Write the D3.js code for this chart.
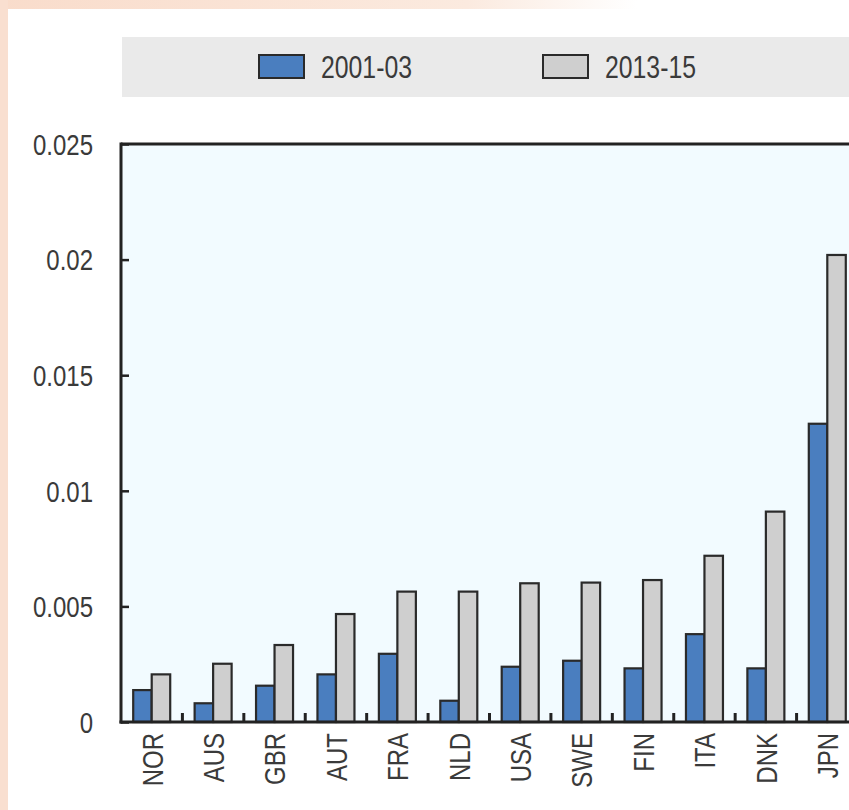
<!DOCTYPE html>
<html>
<head>
<meta charset="utf-8">
<script src="https://cdn.jsdelivr.net/npm/d3@7"></script>
<style>
html,body{margin:0;padding:0;background:#fff;}
svg{display:block;}
text{font-family:"Liberation Sans",Arial,sans-serif;fill:#3a3a3a;}
</style>
</head>
<body>
<svg id="chart" width="849" height="810"></svg>
<script>
const categories = ["NOR","AUS","GBR","AUT","FRA","NLD","USA","SWE","FIN","ITA","DNK","JPN"];
const seriesNames = ["2001-03","2013-15"];
const values2001 = [0.00138,0.00081,0.00157,0.00206,0.00295,0.00092,0.00239,0.00265,0.00232,0.0038,0.00232,0.0129];
const values2013 = [0.00206,0.00252,0.00333,0.00467,0.00564,0.00564,0.0060,0.00603,0.00614,0.00719,0.0091,0.0202];
const yTicks = [0,0.005,0.01,0.015,0.02,0.025];
const yTickLabels = ["0","0.005","0.01","0.015","0.02","0.025"];
const colors = ["#4A7EBF","#CFCFCF"];

(function(){
const svg = d3.select("#chart");
const W = 849, H = 810;
const narrow = 0.8;

// page background (peach edge + white card)
const defs = svg.append("defs");
const grad = defs.append("linearGradient").attr("id","topg").attr("x1","0").attr("x2","1");
grad.append("stop").attr("offset","0").attr("stop-color","#F9DCCB");
grad.append("stop").attr("offset","0.55").attr("stop-color","#FBEADF");
grad.append("stop").attr("offset","0.75").attr("stop-color","#ffffff");
svg.append("rect").attr("x",0).attr("y",0).attr("width",W).attr("height",H).attr("fill","#fff");
svg.append("rect").attr("x",0).attr("y",0).attr("width",W).attr("height",9).attr("fill","url(#topg)");
svg.append("rect").attr("x",0).attr("y",0).attr("width",8).attr("height",H).attr("fill","#F9DFD0");

const pL = 121, pR = 858, pT = 144, pB = 722;

const x = d3.scaleBand().domain(categories).range([pL, pR]).padding(0);
const barW = 18.5;
const xs = d3.scaleBand().domain(seriesNames)
  .range([x.bandwidth()/2 - barW, x.bandwidth()/2 + barW]).padding(0);
const y = d3.scaleLinear().domain([0,0.025]).range([pB, pT]);

// legend
svg.append("rect").attr("x",122).attr("y",37).attr("width",W-122).attr("height",60).attr("fill","#EAEAEA");
const legendX = [259, 543];
seriesNames.forEach((s,i)=>{
  svg.append("rect").attr("x",legendX[i]).attr("y",55).attr("width",45).attr("height",23)
    .attr("fill",colors[i]).attr("stroke","#2a2a2a").attr("stroke-width",2);
  svg.append("text").attr("transform",`translate(${legendX[i]+62},78) scale(${narrow},1)`)
    .attr("font-size",31).text(s);
});

// plot background
svg.append("rect").attr("x",pL).attr("y",pT).attr("width",pR-pL).attr("height",pB-pT).attr("fill","#F2FBFF");

// bars
const data = categories.map((c,i)=>({c, v:[values2001[i], values2013[i]]}));
const g = svg.append("g");
data.forEach(d=>{
  seriesNames.forEach((s,j)=>{
    g.append("rect")
      .attr("x", x(d.c) + xs(s))
      .attr("y", y(d.v[j]))
      .attr("width", xs.bandwidth())
      .attr("height", y(0) - y(d.v[j]))
      .attr("fill", colors[j])
      .attr("stroke", "#2a2a2a")
      .attr("stroke-width", 2.2);
  });
});

// y axis
const yAxis = d3.axisRight(y).tickValues(yTicks).tickSize(8).tickFormat("");
const ya = svg.append("g").attr("transform",`translate(${pL},0)`).call(yAxis);
ya.select(".domain").remove();
ya.selectAll("line").attr("stroke","#222").attr("stroke-width",2.5);
yTicks.forEach((t,i)=>{
  svg.append("text").attr("transform",`translate(93,${y(t)}) scale(${narrow},1)`).attr("dy","0.36em")
    .attr("text-anchor","end").attr("font-size",30).text(yTickLabels[i]);
});

// x axis category boundary ticks
categories.slice(1).forEach(c=>{
  svg.append("line").attr("x1",x(c)).attr("x2",x(c)).attr("y1",pB).attr("y2",pB-9)
    .attr("stroke","#222").attr("stroke-width",3);
});

// frame lines
svg.append("line").attr("x1",pL).attr("x2",W).attr("y1",pT).attr("y2",pT).attr("stroke","#222").attr("stroke-width",3);
svg.append("line").attr("x1",pL).attr("x2",pL).attr("y1",pT-1.5).attr("y2",pB+1.5).attr("stroke","#222").attr("stroke-width",3);
svg.append("line").attr("x1",pL-1.5).attr("x2",W).attr("y1",pB).attr("y2",pB).attr("stroke","#222").attr("stroke-width",3);

// x labels
categories.forEach(c=>{
  const cx = x(c) + x.bandwidth()/2;
  svg.append("text").attr("transform",`translate(${cx},733) rotate(-90) scale(${narrow},1)`)
    .attr("dy","0.36em").attr("text-anchor","end").attr("font-size",30).text(c);
});
})();
</script>
</body>
</html>
